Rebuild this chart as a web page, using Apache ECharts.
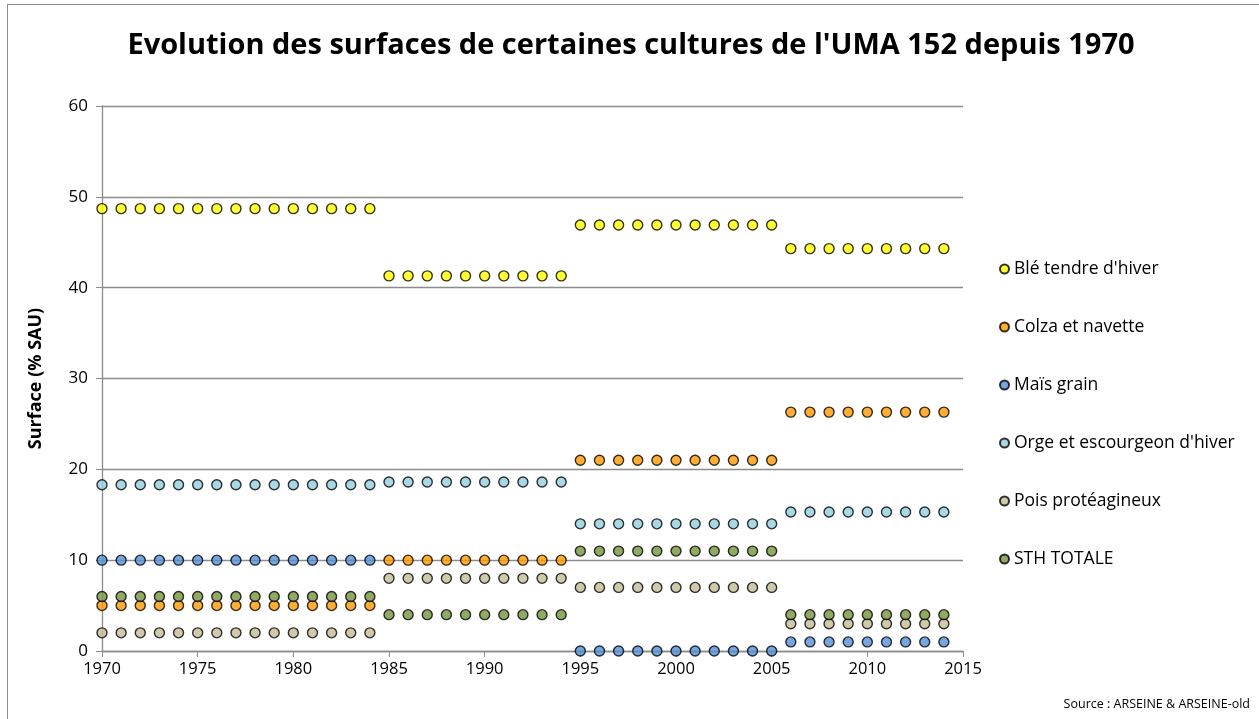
<!DOCTYPE html>
<html>
<head>
<meta charset="utf-8">
<script src="https://cdn.jsdelivr.net/npm/echarts@6/dist/echarts.min.js"></script>
<style>
  html, body { margin: 0; padding: 0; background: #fff; }
  #frame { position: absolute; left: 7px; top: 4px; width: 1400px; height: 800px;
           border-left: 1.5px solid #8c8c8c; border-top: 1.5px solid #8c8c8c; }
  #chart { position: absolute; left: 0; top: 0; width: 1259px; height: 719px; }
</style>
</head>
<body>
<div id="frame"></div>
<div id="chart"></div>
<script>
// années
const years = [1970, 1971, 1972, 1973, 1974, 1975, 1976, 1977, 1978, 1979, 1980, 1981, 1982, 1983, 1984,
  1985, 1986, 1987, 1988, 1989, 1990, 1991, 1992, 1993, 1994,
  1995, 1996, 1997, 1998, 1999, 2000, 2001, 2002, 2003, 2004, 2005,
  2006, 2007, 2008, 2009, 2010, 2011, 2012, 2013, 2014];

// surfaces (% SAU), une valeur par année
const ble = [48.7, 48.7, 48.7, 48.7, 48.7, 48.7, 48.7, 48.7, 48.7, 48.7, 48.7, 48.7, 48.7, 48.7, 48.7,
  41.3, 41.3, 41.3, 41.3, 41.3, 41.3, 41.3, 41.3, 41.3, 41.3,
  46.9, 46.9, 46.9, 46.9, 46.9, 46.9, 46.9, 46.9, 46.9, 46.9, 46.9,
  44.3, 44.3, 44.3, 44.3, 44.3, 44.3, 44.3, 44.3, 44.3];
const colza = [5, 5, 5, 5, 5, 5, 5, 5, 5, 5, 5, 5, 5, 5, 5,
  10, 10, 10, 10, 10, 10, 10, 10, 10, 10,
  21, 21, 21, 21, 21, 21, 21, 21, 21, 21, 21,
  26.3, 26.3, 26.3, 26.3, 26.3, 26.3, 26.3, 26.3, 26.3];
const mais = [10, 10, 10, 10, 10, 10, 10, 10, 10, 10, 10, 10, 10, 10, 10,
  null, null, null, null, null, null, null, null, null, null,
  0, 0, 0, 0, 0, 0, 0, 0, 0, 0, 0,
  1, 1, 1, 1, 1, 1, 1, 1, 1];
const orge = [18.3, 18.3, 18.3, 18.3, 18.3, 18.3, 18.3, 18.3, 18.3, 18.3, 18.3, 18.3, 18.3, 18.3, 18.3,
  18.6, 18.6, 18.6, 18.6, 18.6, 18.6, 18.6, 18.6, 18.6, 18.6,
  14, 14, 14, 14, 14, 14, 14, 14, 14, 14, 14,
  15.3, 15.3, 15.3, 15.3, 15.3, 15.3, 15.3, 15.3, 15.3];
const pois = [2, 2, 2, 2, 2, 2, 2, 2, 2, 2, 2, 2, 2, 2, 2,
  8, 8, 8, 8, 8, 8, 8, 8, 8, 8,
  7, 7, 7, 7, 7, 7, 7, 7, 7, 7, 7,
  3, 3, 3, 3, 3, 3, 3, 3, 3];
const sth = [6, 6, 6, 6, 6, 6, 6, 6, 6, 6, 6, 6, 6, 6, 6,
  4, 4, 4, 4, 4, 4, 4, 4, 4, 4,
  11, 11, 11, 11, 11, 11, 11, 11, 11, 11, 11,
  4, 4, 4, 4, 4, 4, 4, 4, 4];

const names = ["Blé tendre d'hiver", 'Colza et navette', 'Maïs grain',
  "Orge et escourgeon d'hiver", 'Pois protéagineux', 'STH TOTALE'];
const colors = ['#FFFF00', '#FF9900', '#558ED5', '#93CDDD', '#C4BD97', '#77933C'];
const values = [ble, colza, mais, orge, pois, sth];

const font = '"Open Sans", "Liberation Sans", sans-serif';
const chart = echarts.init(document.getElementById('chart'));

const option = {
  animation: false,
  title: [{
    text: "Evolution des surfaces de certaines cultures de l'UMA 152 depuis 1970",
    left: 626, top: 26, textAlign: 'center',
    textStyle: { fontFamily: font, fontSize: 29, fontWeight: 'bold', color: '#000' }
  }, {
    text: 'Source : ARSEINE & ARSEINE-old',
    right: 4, top: 693,
    textStyle: { fontFamily: font, fontSize: 12.5, fontWeight: 'normal', color: '#000' }
  }],
  grid: { left: 102, right: 296, top: 106, bottom: 68 },
  legend: {
    orient: 'vertical', left: 994, top: 255, itemGap: 40,
    icon: 'circle', itemWidth: 9, itemHeight: 9,
    textStyle: { fontFamily: font, fontSize: 17.5, color: '#000' },
    data: names
  },
  xAxis: {
    type: 'value', min: 1970, max: 2015, interval: 5,
    axisLine: { show: true, lineStyle: { color: '#8c8c8c', width: 1.3 } },
    axisTick: { show: true, length: 6, lineStyle: { color: '#8c8c8c' } },
    axisLabel: { fontFamily: font, fontSize: 16.5, color: '#000', margin: 10, formatter: v => String(v) },
    splitLine: { show: false }
  },
  yAxis: {
    type: 'value', min: 0, max: 60, interval: 10,
    name: 'Surface (% SAU)', nameLocation: 'middle', nameGap: 57,
    nameTextStyle: { fontFamily: font, fontSize: 18, fontWeight: 'bold', color: '#000' },
    axisLine: { show: true, lineStyle: { color: '#8c8c8c', width: 1.3 } },
    axisTick: { show: true, length: 6, lineStyle: { color: '#8c8c8c' } },
    axisLabel: { fontFamily: font, fontSize: 17, color: '#000', margin: 14 },
    splitLine: { show: true, lineStyle: { color: '#8c8c8c', width: 1.3 } }
  },
  series: names.map((n, i) => ({
    name: n,
    type: 'scatter',
    symbol: 'circle',
    symbolSize: 10,
    itemStyle: { color: colors[i], borderColor: '#000', borderWidth: 1.4 },
    data: years.map((y, k) => [y, values[i][k]]).filter(d => d[1] !== null)
  }))
};

chart.setOption(option);
</script>
</body>
</html>
